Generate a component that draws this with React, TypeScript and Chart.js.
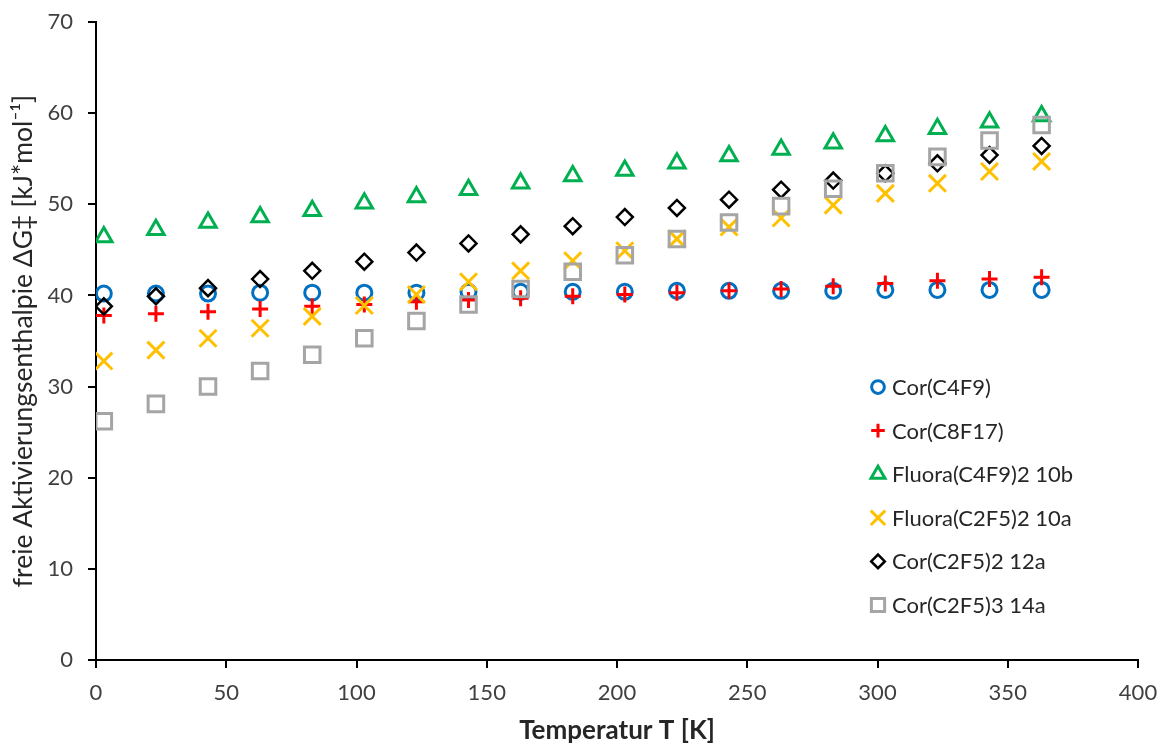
import React, { useEffect, useRef } from 'react';
import { Chart, registerables } from 'chart.js';
import { drawPoint } from 'chart.js/helpers';

Chart.register(...registerables);

const temperatures = [3, 23, 43, 63, 83, 103, 123, 143, 163, 183, 203, 223, 243, 263, 283, 303, 323, 343, 363];

const seriesNames = [
  'Cor(C4F9)',
  'Cor(C8F17)',
  'Fluora(C4F9)2 10b',
  'Fluora(C2F5)2 10a',
  'Cor(C2F5)2 12a',
  'Cor(C2F5)3 14a',
];

const corC4F9 = [40.2, 40.2, 40.2, 40.3, 40.3, 40.3, 40.3, 40.4, 40.4, 40.4, 40.4, 40.5, 40.5, 40.5, 40.5, 40.6, 40.6, 40.6, 40.6];
const corC8F17 = [37.8, 38.0, 38.2, 38.5, 38.8, 39.0, 39.3, 39.5, 39.7, 39.9, 40.1, 40.3, 40.5, 40.7, 41.0, 41.3, 41.6, 41.8, 42.0];
const fluoraC4F9 = [46.4, 47.2, 48.0, 48.6, 49.3, 50.1, 50.8, 51.6, 52.3, 53.1, 53.7, 54.5, 55.3, 56.0, 56.7, 57.5, 58.3, 59.0, 59.7];
const fluoraC2F5 = [32.8, 34.0, 35.3, 36.4, 37.7, 38.9, 40.1, 41.5, 42.7, 43.8, 44.9, 46.2, 47.5, 48.5, 49.9, 51.2, 52.3, 53.6, 54.7];
const corC2F5_2 = [38.8, 39.9, 40.8, 41.8, 42.7, 43.7, 44.7, 45.7, 46.7, 47.6, 48.6, 49.6, 50.5, 51.6, 52.6, 53.4, 54.5, 55.4, 56.4];
const corC2F5_3 = [26.2, 28.1, 30.0, 31.7, 33.5, 35.3, 37.2, 39.0, 40.7, 42.6, 44.4, 46.2, 48.0, 49.8, 51.7, 53.4, 55.2, 57.0, 58.7];

const seriesValues = [corC4F9, corC8F17, fluoraC4F9, fluoraC2F5, corC2F5_2, corC2F5_3];

const xTicks = [0, 50, 100, 150, 200, 250, 300, 350, 400];
const yTicks = [0, 10, 20, 30, 40, 50, 60, 70];

const xTitle = 'Temperatur T [K]';
const yTitle = 'freie Aktivierungsenthalpie \u0394G\u2021 [kJ*mol\u207B\u00B9]';

const markerStyles = [
  { pointStyle: 'circle', color: '#0070C0', radius: 7.5, width: 3 },
  { pointStyle: 'cross', color: '#FF0000', radius: 8, width: 3 },
  { pointStyle: 'triangle', color: '#00B050', radius: 9.5, width: 3 },
  { pointStyle: 'crossRot', color: '#FFC000', radius: 12, width: 3 },
  { pointStyle: 'rectRot', color: '#000000', radius: 8, width: 2.5 },
  { pointStyle: 'rect', color: '#A5A5A5', radius: 11, width: 3 },
];

const FONT = 'Lato';

const insideLegend = {
  id: 'insideLegend',
  afterDraw(chart: any) {
    const opts = chart.options.plugins.insideLegend;
    if (!opts) return;
    const ctx = chart.ctx;
    chart.data.datasets.forEach((ds: any, i: number) => {
      const y = opts.top + i * opts.spacing;
      ctx.save();
      ctx.strokeStyle = ds.pointBorderColor;
      ctx.fillStyle = 'rgba(0,0,0,0)';
      ctx.lineWidth = ds.pointBorderWidth;
      drawPoint(
        ctx,
        { pointStyle: ds.pointStyle, radius: ds.pointRadius * opts.markerScale, borderWidth: ds.pointBorderWidth, rotation: 0 },
        opts.markerX,
        y
      );
      ctx.restore();
      ctx.save();
      ctx.fillStyle = opts.color;
      ctx.font = `${opts.fontSize}px ${FONT}`;
      ctx.textAlign = 'left';
      ctx.textBaseline = 'middle';
      ctx.fillText(ds.label, opts.textX, y + 1);
      ctx.restore();
    });
  },
};

export default function App() {
  const canvasRef = useRef<HTMLCanvasElement | null>(null);

  useEffect(() => {
    if (!canvasRef.current) return;
    const datasets = seriesValues.map((vals, i) => ({
      label: seriesNames[i],
      data: temperatures.map((t, j) => ({ x: t, y: vals[j] })),
      showLine: false,
      pointStyle: markerStyles[i].pointStyle,
      pointRadius: markerStyles[i].radius,
      pointHoverRadius: markerStyles[i].radius,
      pointBorderColor: markerStyles[i].color,
      pointBackgroundColor: 'rgba(0,0,0,0)',
      pointBorderWidth: markerStyles[i].width,
      pointHoverBorderWidth: markerStyles[i].width,
      order: seriesValues.length - i,
    }));

    const chart = new Chart(canvasRef.current, {
      type: 'scatter',
      data: { datasets },
      plugins: [insideLegend],
      options: {
        animation: false,
        responsive: true,
        maintainAspectRatio: false,
        layout: { padding: { left: 0, right: 19, top: 22, bottom: 0 } },
        plugins: {
          legend: { display: false },
          tooltip: { enabled: false },
          insideLegend: {
            markerX: 878,
            textX: 892,
            top: 387,
            spacing: 43.6,
            markerScale: 0.85,
            fontSize: 22,
            color: '#262626',
          },
        } as any,
        scales: {
          x: {
            type: 'linear',
            min: 0,
            max: 400,
            afterBuildTicks: (s: any) => {
              s.ticks = xTicks.map((v) => ({ value: v }));
            },
            afterFit: (s: any) => {
              s.height = 84;
              s.paddingLeft = 0;
              s.paddingRight = 0;
            },
            ticks: {
              color: '#404040',
              font: { family: FONT, size: 22 },
              padding: 12,
              maxRotation: 0,
              autoSkip: false,
            },
            grid: {
              drawOnChartArea: false,
              drawTicks: true,
              tickLength: 8,
              color: '#000000',
              lineWidth: 2,
            },
            border: { display: true, color: '#000000', width: 2 },
            title: {
              display: true,
              text: xTitle,
              color: '#262626',
              font: { family: FONT, size: 26, weight: 'bold', lineHeight: 1 },
              padding: { top: -2, bottom: 0 },
            },
          },
          y: {
            type: 'linear',
            min: 0,
            max: 70,
            afterBuildTicks: (s: any) => {
              s.ticks = yTicks.map((v) => ({ value: v }));
            },
            afterFit: (s: any) => {
              s.width = 96;
              s.paddingTop = 0;
              s.paddingBottom = 0;
            },
            ticks: {
              color: '#404040',
              font: { family: FONT, size: 22 },
              padding: 15,
              autoSkip: false,
            },
            grid: {
              drawOnChartArea: false,
              drawTicks: true,
              tickLength: 8,
              color: '#000000',
              lineWidth: 2,
            },
            border: { display: true, color: '#000000', width: 2 },
            title: {
              display: true,
              text: yTitle,
              color: '#262626',
              font: { family: FONT, size: 26.5, lineHeight: 1.2 },
              padding: { top: 8, bottom: 0 },
            },
          },
        },
      } as any,
    });
    return () => chart.destroy();
  }, []);

  return (
    <div style={{ position: 'fixed', left: 0, top: 0, width: 1157, height: 744, background: '#ffffff' }}>
      <canvas ref={canvasRef} />
    </div>
  );
}
